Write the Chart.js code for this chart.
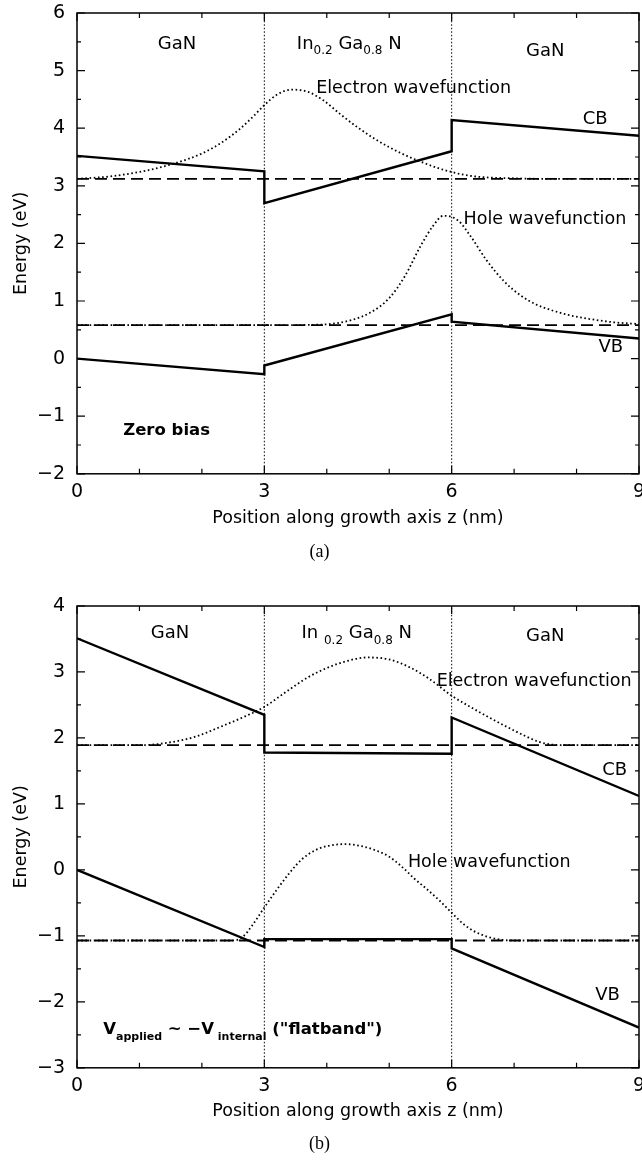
<!DOCTYPE html>
<html>
<head>
<meta charset="utf-8">
<script src="https://cdn.jsdelivr.net/npm/chart.js@4.4.0/dist/chart.umd.min.js"></script>
<style>
  body { margin: 0; background: #fff; }
  canvas { position: absolute; left: 0; }
</style>
</head>
<body>
<canvas id="chartA" width="642" height="580" style="top:0"></canvas>
<canvas id="chartB" width="642" height="581" style="top:580px"></canvas>
<script>
// shared
const xTickValues = [0, 3, 6, 9];
const interfaces = [3, 6];

// (a) zero bias
const yRangeA = [-2, 6];
const cbZA = [0, 3, 3, 6, 6, 9];
const cbA = [3.52, 3.25, 2.70, 3.60, 4.14, 3.87];
const vbZA = [0, 3, 3, 6, 6, 9];
const vbA = [0.00, -0.27, -0.12, 0.77, 0.64, 0.35];
const electronLevelA = 3.12;
const holeLevelA = 0.58;
const ewfZA = [0, 0.5, 1.0, 1.5, 2.0, 2.3, 2.6, 2.8, 3.0, 3.2, 3.44, 3.7, 3.95, 4.22, 4.5, 4.76, 5.0, 5.3, 5.5, 5.8, 6.0, 6.2, 6.5, 7.0, 7.5, 9.0];
const ewfA = [3.12, 3.16, 3.24, 3.37, 3.56, 3.74, 3.98, 4.18, 4.40, 4.58, 4.67, 4.63, 4.48, 4.24, 4.01, 3.82, 3.67, 3.51, 3.42, 3.30, 3.24, 3.19, 3.15, 3.13, 3.12, 3.12];
const hwfZA = [0, 3.0, 3.9, 4.4, 4.7, 5.0, 5.25, 5.5, 5.7, 5.87, 6.1, 6.3, 6.55, 6.85, 7.1, 7.35, 7.6, 7.9, 8.2, 8.6, 9.0];
const hwfA = [0.58, 0.58, 0.59, 0.67, 0.80, 1.05, 1.43, 1.95, 2.30, 2.48, 2.40, 2.13, 1.72, 1.33, 1.10, 0.94, 0.84, 0.75, 0.69, 0.63, 0.60];

// (b) flatband
const yRangeB = [-3, 4];
const cbZB = [0, 3, 3, 6, 6, 9];
const cbB = [3.51, 2.35, 1.78, 1.76, 2.31, 1.12];
const vbZB = [0, 3, 3, 6, 6, 9];
const vbB = [0.00, -1.17, -1.05, -1.05, -1.19, -2.39];
const electronLevelB = 1.89;
const holeLevelB = -1.07;
const ewfZB = [0, 1.0, 1.4, 1.9, 2.3, 2.7, 3.0, 3.35, 3.7, 4.0, 4.3, 4.64, 5.0, 5.33, 5.65, 6.0, 6.3, 6.6, 6.9, 7.2, 7.4, 7.6, 7.8, 9.0];
const ewfB = [1.89, 1.89, 1.92, 2.02, 2.17, 2.33, 2.47, 2.70, 2.92, 3.06, 3.16, 3.22, 3.19, 3.07, 2.89, 2.64, 2.47, 2.31, 2.16, 2.02, 1.94, 1.90, 1.89, 1.89];
const hwfZB = [0, 2.5, 2.65, 2.8, 3.0, 3.2, 3.4, 3.6, 3.8, 4.0, 4.3, 4.6, 4.8, 5.0, 5.2, 5.4, 5.6, 5.8, 6.0, 6.2, 6.4, 6.6, 6.8, 7.0, 9.0];
const hwfB = [-1.07, -1.07, -1.02, -0.85, -0.57, -0.30, -0.05, 0.16, 0.29, 0.36, 0.39, 0.35, 0.29, 0.20, 0.05, -0.13, -0.29, -0.46, -0.65, -0.83, -0.95, -1.02, -1.06, -1.07, -1.07];

const SANS = '"DejaVu Sans", sans-serif';
const SERIF = '"Liberation Serif", serif';

function pts(xs, ys) {
  return xs.map((x, i) => ({x: x, y: ys[i]}));
}

function band(xs, ys) {
  return {data: pts(xs, ys), borderColor: '#000', borderWidth: 2.4, pointRadius: 0, tension: 0};
}
function level(v) {
  return {data: pts([0, 9], [v, v]), borderColor: '#000', borderWidth: 1.8, borderDash: [12, 6], pointRadius: 0};
}
function wave(xs, ys) {
  return {data: pts(xs, ys), borderColor: '#000', borderWidth: 1.8, borderDash: [1.6, 2.6],
    pointRadius: 0, cubicInterpolationMode: 'monotone'};
}
function divider(z, range) {
  return {data: pts([z, z], range), borderColor: '#000', borderWidth: 1, borderDash: [1.5, 2], pointRadius: 0};
}

// inward ticks + frame, gnuplot style
const frameTicks = {
  id: 'frameTicks',
  afterDatasetsDraw(chart) {
    const {ctx, chartArea: a, scales: {x, y}} = chart;
    ctx.save();
    ctx.strokeStyle = '#000';
    ctx.lineWidth = 1.5;
    ctx.strokeRect(a.left, a.top, a.width, a.height);
    ctx.lineWidth = 1.2;
    ctx.beginPath();
    for (let v = x.min; v <= x.max; v += 1) {
      const px = x.getPixelForValue(v);
      const len = v % 3 === 0 ? 8 : 5;
      ctx.moveTo(px, a.bottom); ctx.lineTo(px, a.bottom - len);
      ctx.moveTo(px, a.top); ctx.lineTo(px, a.top + len);
    }
    for (let v = y.min; v <= y.max + 1e-9; v += 0.5) {
      const py = y.getPixelForValue(v);
      const len = Number.isInteger(v) ? 8 : 4;
      ctx.moveTo(a.left, py); ctx.lineTo(a.left + len, py);
      ctx.moveTo(a.right, py); ctx.lineTo(a.right - len, py);
    }
    ctx.stroke();
    ctx.restore();
  }
};

// labels placed in data coordinates, with subscripts
const bandText = {
  id: 'bandText',
  afterDatasetsDraw(chart, args, opts) {
    const {ctx, scales: {x, y}} = chart;
    ctx.save();
    ctx.fillStyle = '#000';
    ctx.textBaseline = 'middle';
    ctx.textAlign = 'left';
    opts.items.forEach(item => {
      const size = item.size || 18;
      const w8 = item.bold ? 'bold ' : '';
      const fMain = w8 + size + 'px ' + SANS;
      const fSub = w8 + Math.round(size * 0.64) + 'px ' + SANS;
      let w = 0;
      item.parts.forEach(([t, sub]) => { ctx.font = sub ? fSub : fMain; w += ctx.measureText(t).width; });
      let px = x.getPixelForValue(item.z);
      if (item.align === 'center') px -= w / 2;
      const py = y.getPixelForValue(item.e);
      item.parts.forEach(([t, sub]) => {
        ctx.font = sub ? fSub : fMain;
        ctx.fillText(t, px, py + (sub ? 7 : 0));
        px += ctx.measureText(t).width;
      });
    });
    ctx.restore();
  }
};

function makeChart(id, p) {
  return new Chart(document.getElementById(id), {
    type: 'line',
    data: {
      datasets: [
        divider(interfaces[0], p.range),
        divider(interfaces[1], p.range),
        level(p.eLevel),
        level(p.hLevel),
        wave(p.ewfZ, p.ewf),
        wave(p.hwfZ, p.hwf),
        band(p.cbZ, p.cb),
        band(p.vbZ, p.vb)
      ]
    },
    options: {
      responsive: false,
      animation: false,
      events: [],
      layout: {padding: {top: p.padTop, right: 3, left: 0, bottom: 0}},
      plugins: {
        legend: {display: false},
        tooltip: {enabled: false},
        title: {
          display: true, position: 'bottom', text: p.caption, color: '#000',
          font: {family: SERIF, size: 18, weight: 'normal'}, padding: p.captionPad
        },
        bandText: {items: p.labels}
      },
      scales: {
        x: {
          type: 'linear', min: 0, max: 9,
          afterBuildTicks: s => { s.ticks = xTickValues.map(v => ({value: v})); },
          afterFit: s => { s.height = p.xHeight; s.paddingLeft = 0; s.paddingRight = 0; },
          grid: {display: false, drawTicks: false},
          border: {display: false},
          ticks: {padding: 7, color: '#000', font: {family: SANS, size: 19}},
          title: {
            display: true, text: 'Position along growth axis z (nm)', color: '#000',
            font: {family: SANS, size: 17.5}, padding: {top: 0, bottom: 2}
          }
        },
        y: {
          min: p.range[0], max: p.range[1],
          ticks: {stepSize: 1, padding: 12, color: '#000', font: {family: SANS, size: 19},
            callback: v => String(v).replace('-', '\u2212')},
          afterFit: s => { s.width = 77; s.paddingTop = 0; s.paddingBottom = 0; },
          grid: {display: false, drawTicks: false},
          border: {display: false},
          title: {
            display: true, text: 'Energy (eV)', color: '#000',
            font: {family: SANS, size: 17.5}, padding: {top: 11, bottom: 0}
          }
        }
      }
    },
    plugins: [frameTicks, bandText]
  });
}

makeChart('chartA', {
  range: yRangeA, padTop: 13, xHeight: 57, caption: '(a)', captionPad: {top: 10.6, bottom: 17},
  cbZ: cbZA, cb: cbA, vbZ: vbZA, vb: vbA, eLevel: electronLevelA, hLevel: holeLevelA,
  ewfZ: ewfZA, ewf: ewfA, hwfZ: hwfZA, hwf: hwfA,
  labels: [
    {z: 1.6, e: 5.45, align: 'center', parts: [['GaN']]},
    {z: 4.36, e: 5.46, align: 'center', parts: [['In'], ['0.2', 1], [' Ga'], ['0.8', 1], [' N']]},
    {z: 7.5, e: 5.34, align: 'center', parts: [['GaN']]},
    {z: 3.83, e: 4.69, size: 17.5, parts: [['Electron wavefunction']]},
    {z: 8.1, e: 4.16, parts: [['CB']]},
    {z: 6.19, e: 2.42, size: 17.5, parts: [['Hole wavefunction']]},
    {z: 8.35, e: 0.2, parts: [['VB']]},
    {z: 0.74, e: -1.26, bold: true, size: 16.5, parts: [['Zero bias']]}
  ]
});

makeChart('chartB', {
  range: yRangeB, padTop: 26, xHeight: 56, caption: '(b)', captionPad: {top: 9.6, bottom: 6},
  cbZ: cbZB, cb: cbB, vbZ: vbZB, vb: vbB, eLevel: electronLevelB, hLevel: holeLevelB,
  ewfZ: ewfZB, ewf: ewfB, hwfZ: hwfZB, hwf: hwfB,
  labels: [
    {z: 1.49, e: 3.59, align: 'center', parts: [['GaN']]},
    {z: 4.48, e: 3.58, align: 'center', parts: [['In '], ['0.2', 1], [' Ga'], ['0.8', 1], [' N']]},
    {z: 7.5, e: 3.54, align: 'center', parts: [['GaN']]},
    {z: 5.76, e: 2.86, size: 17.5, parts: [['Electron wavefunction']]},
    {z: 8.41, e: 1.51, parts: [['CB']]},
    {z: 5.3, e: 0.11, size: 17.5, parts: [['Hole wavefunction']]},
    {z: 8.3, e: -1.9, parts: [['VB']]},
    {z: 0.42, e: -2.43, bold: true, size: 16.5,
      parts: [['V'], ['applied', 1], [' ~ \u2212V'], [' internal', 1], [' ("flatband")']]}
  ]
});
</script>
</body>
</html>
